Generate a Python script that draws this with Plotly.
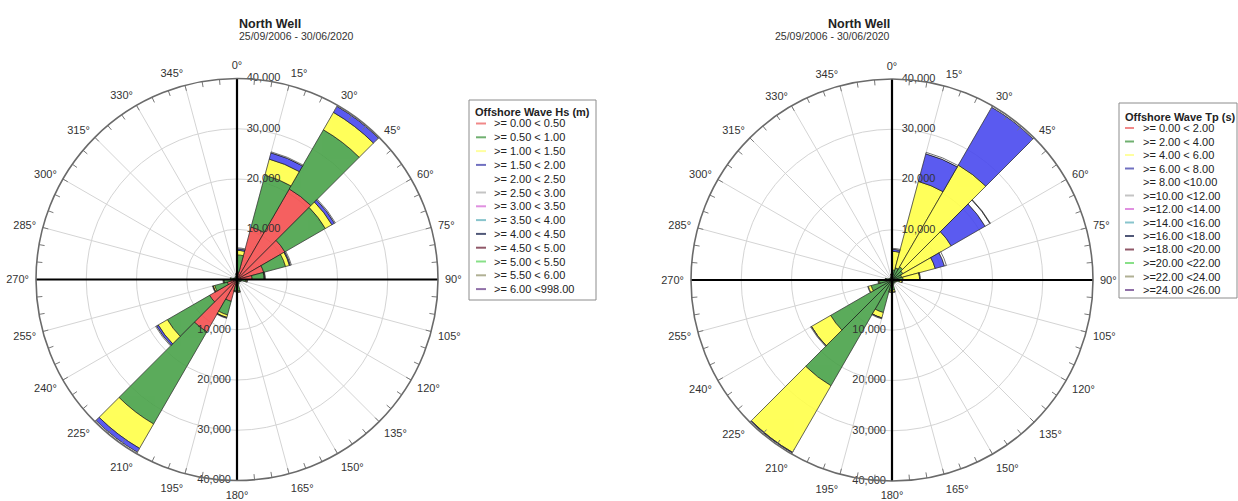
import plotly.graph_objects as go

W, H = 1238, 501
FONT = "Liberation Sans, Arial, sans-serif"

# ---------------------------------------------------------------- data
# centre of each 15-degree direction sector
sector_deg = [7.5, 22.5, 37.5, 52.5, 67.5, 82.5, 97.5, 112.5, 127.5, 142.5, 157.5, 172.5,
              187.5, 202.5, 217.5, 232.5, 247.5, 262.5, 277.5, 292.5, 307.5, 322.5, 337.5, 352.5]

# Offshore wave height (Hs) counts per sector and height class
hs_000_050 = [1500, 10800, 20800, 11000, 5500, 3000, 900, 500, 400, 400, 500, 1000,
              1000, 4500, 12000, 6300, 2000, 1200, 700, 400, 300, 300, 400, 700]
hs_050_100 = [3400, 10700, 13600, 9300, 4500, 2400, 900, 400, 300, 300, 400, 1300,
              1300, 2800, 21200, 9700, 2600, 1400, 600, 300, 200, 200, 300, 500]
hs_100_150 = [900, 3300, 4000, 1500, 800, 100, 200, 0, 0, 0, 0, 200,
              100, 500, 5600, 2100, 300, 100, 50, 0, 0, 0, 0, 0]
hs_150_200 = [300, 1300, 1400, 600, 200, 50, 0, 0, 0, 0, 0, 0,
              0, 100, 900, 400, 50, 0, 0, 0, 0, 0, 0, 0]
hs_200_250 = [200, 200, 200, 200, 200, 100, 100, 0, 0, 0, 0, 100,
              100, 100, 300, 200, 100, 100, 0, 0, 0, 0, 0, 0]

# Offshore wave period (Tp) counts per sector and period class
tp_00_02 = [100, 100, 100, 100, 100, 100, 100, 50, 50, 50, 50, 100,
            100, 100, 100, 100, 100, 100, 100, 50, 50, 50, 50, 100]
tp_02_04 = [1900, 2400, 2900, 2400, 1900, 2100, 1400, 800, 650, 650, 850, 1900,
            2000, 6600, 24200, 14000, 4200, 2400, 1200, 650, 450, 450, 650, 1000]
tp_04_06 = [3700, 17800, 23400, 11100, 6900, 3300, 500, 50, 0, 0, 0, 400,
            300, 1100, 15300, 4400, 600, 200, 50, 0, 0, 0, 0, 100]
tp_06_08 = [400, 5700, 13300, 7800, 1900, 50, 0, 0, 0, 0, 0, 0,
            0, 50, 150, 50, 0, 0, 0, 0, 0, 0, 0, 0]
tp_08_10 = [200, 300, 300, 1100, 400, 100, 100, 0, 0, 0, 0, 100,
            100, 150, 250, 150, 100, 100, 0, 0, 0, 0, 0, 0]
tp_10_12 = [0, 0, 0, 100, 0, 0, 0, 0, 0, 0, 0, 0,
            0, 0, 0, 0, 0, 0, 0, 0, 0, 0, 0, 0]

hs_classes = [">= 0.00 < 0.50", ">= 0.50 < 1.00", ">= 1.00 < 1.50", ">= 1.50 < 2.00",
              ">= 2.00 < 2.50", ">= 2.50 < 3.00", ">= 3.00 < 3.50", ">= 3.50 < 4.00",
              ">= 4.00 < 4.50", ">= 4.50 < 5.00", ">= 5.00 < 5.50", ">= 5.50 < 6.00",
              ">= 6.00 <998.00"]
tp_classes = [">= 0.00 < 2.00", ">= 2.00 < 4.00", ">= 4.00 < 6.00", ">= 6.00 < 8.00",
              ">= 8.00 <10.00", ">=10.00 <12.00", ">=12.00 <14.00", ">=14.00 <16.00",
              ">=16.00 <18.00", ">=18.00 <20.00", ">=20.00 <22.00", ">=22.00 <24.00",
              ">=24.00 <26.00"]

radial_ticks = [10000, 20000, 30000, 40000]
radial_ticktext = ["10,000", "20,000", "30,000", "40,000"]
angle_ticks = [0, 15, 30, 45, 60, 75, 90, 105, 120, 135, 150, 165,
               180, 195, 210, 225, 240, 255, 270, 285, 300, 315, 330, 345]

title_text = "North Well"
period_text = "25/09/2006 - 30/06/2020"

# ---------------------------------------------------------------- styling
class_colors = ["#f44a4a", "#45a045", "#ffff45", "#4545ee", "#ffffff", "#c0c0c0",
                "#e070e0", "#70b8c8", "#404868", "#8a4050", "#70e070", "#a8a888", "#8a5aa0"]
legend_colors = ["#f08888", "#70b070", "#ffffa0", "#7070c0", "#ffffff", "#c4c4c4",
                 "#e090e0", "#88c4cc", "#505878", "#905868", "#88e088", "#b0b094", "#9070a8"]
RMAX = 40000

fig = go.Figure()


def px_x(x):
    return x / W


def px_y(y):
    return 1 - y / H


def add_rose(subplot, series):
    # radial value labels along the north and south axis
    fig.add_trace(go.Scatterpolar(
        r=radial_ticks, theta=[0] * 4, mode="markers+text", text=radial_ticktext,
        textposition="middle right", marker=dict(size=14, color="rgba(0,0,0,0)"),
        textfont=dict(family=FONT, size=11, color="#333"),
        subplot=subplot, showlegend=False, hoverinfo="skip"))
    fig.add_trace(go.Scatterpolar(
        r=radial_ticks, theta=[180] * 4, mode="markers+text", text=radial_ticktext,
        textposition="middle left", marker=dict(size=8, color="rgba(0,0,0,0)"),
        textfont=dict(family=FONT, size=11, color="#333"),
        subplot=subplot, showlegend=False, hoverinfo="skip"))
    # stacked class bars
    for i, vals in enumerate(series):
        fig.add_trace(go.Barpolar(
            r=[v if v > 0 else None for v in vals], theta=sector_deg, width=15,
            marker=dict(color=class_colors[i], opacity=0.88,
                        line=dict(color="rgba(20,20,20,0.85)", width=0.8)),
            subplot=subplot, showlegend=False, hoverinfo="skip"))
    # minor ticks around the rim every 5 degrees
    tr, tt = [], []
    for a in range(0, 360, 5):
        tr += [RMAX * 0.972, RMAX, None]
        tt += [a, a, None]
    fig.add_trace(go.Scatterpolar(r=tr, theta=tt, mode="lines",
                                  line=dict(color="#777", width=1),
                                  subplot=subplot, showlegend=False, hoverinfo="skip"))
    # heavy north-south and east-west axes
    fig.add_trace(go.Scatterpolar(r=[RMAX, 0, RMAX], theta=[0, 0, 180], mode="lines",
                                  line=dict(color="black", width=2.2),
                                  subplot=subplot, showlegend=False, hoverinfo="skip"))
    fig.add_trace(go.Scatterpolar(r=[RMAX, 0, RMAX], theta=[90, 90, 270], mode="lines",
                                  line=dict(color="black", width=2.2),
                                  subplot=subplot, showlegend=False, hoverinfo="skip"))


def polar_layout(cx, cy, rad):
    return dict(
        domain=dict(x=[px_x(cx - rad), px_x(cx + rad)], y=[px_y(cy + rad), px_y(cy - rad)]),
        bgcolor="white",
        barmode="stack",
        angularaxis=dict(direction="clockwise", rotation=90, tickmode="array",
                         tickvals=angle_ticks, ticktext=[f"{a}°" for a in angle_ticks],
                         showgrid=True, gridcolor="#d4d4d4", gridwidth=1,
                         showline=True, linecolor="#6a6a6a", linewidth=1.6,
                         ticks="outside", ticklen=4, tickcolor="rgba(0,0,0,0)",
                         tickfont=dict(family=FONT, size=11, color="#333")),
        radialaxis=dict(range=[0, RMAX], tickvals=radial_ticks, showticklabels=False,
                        ticks="", showline=False, showgrid=True,
                        gridcolor="#d4d4d4", gridwidth=1),
    )


def add_legend(x0, y0, x1, y1, title, labels, title_y, first_y, step, lx0, lx1, tx):
    fig.add_shape(type="rect", xref="paper", yref="paper",
                  x0=px_x(x0), x1=px_x(x1), y0=px_y(y1), y1=px_y(y0),
                  line=dict(color="#8c8c8c", width=1), fillcolor="white", layer="above")
    fig.add_annotation(x=px_x(x0 + 4), y=px_y(title_y), xref="paper", yref="paper",
                       text=f"<b>{title}</b>", showarrow=False, xanchor="left", yanchor="middle",
                       font=dict(family=FONT, size=11, color="#222"))
    for i, lab in enumerate(labels):
        y = first_y + i * step
        fig.add_shape(type="line", xref="paper", yref="paper",
                      x0=px_x(lx0), x1=px_x(lx1), y0=px_y(y), y1=px_y(y),
                      line=dict(color=legend_colors[i], width=2), layer="above")
        fig.add_annotation(x=px_x(tx), y=px_y(y), xref="paper", yref="paper",
                           text=lab.replace("<", "&lt;").replace(">", "&gt;"),
                           showarrow=False, xanchor="left", yanchor="middle",
                           font=dict(family=FONT, size=11, color="#222"))


add_rose("polar", [hs_000_050, hs_050_100, hs_100_150, hs_150_200, hs_200_250])
add_rose("polar2", [tp_00_02, tp_02_04, tp_04_06, tp_06_08, tp_08_10, tp_10_12])

for cx in (237, 892):
    fig.add_annotation(x=px_x(cx), y=px_y(15), xref="paper", yref="paper",
                       text=f"<b>{title_text}</b>", showarrow=False,
                       font=dict(family=FONT, size=12.5, color="#222"))
    fig.add_annotation(x=px_x(cx), y=px_y(28.5), xref="paper", yref="paper",
                       text=period_text, showarrow=False,
                       font=dict(family=FONT, size=10.5, color="#333"))

add_legend(469, 100, 596, 300, "Offshore Wave Hs (m)", hs_classes,
           112, 123.5, 13.8, 476, 486, 492)
add_legend(1119, 103, 1237, 298, "Offshore Wave Tp (s)", tp_classes,
           116.5, 128, 13.5, 1125, 1134, 1141)

fig.update_layout(
    width=W, height=H, margin=dict(l=0, r=0, t=0, b=0),
    paper_bgcolor="white", plot_bgcolor="white", showlegend=False,
    polar=polar_layout(237, 279.5, 201),
    polar2=polar_layout(892, 280, 201),
)

fig.write_html("out.html")
